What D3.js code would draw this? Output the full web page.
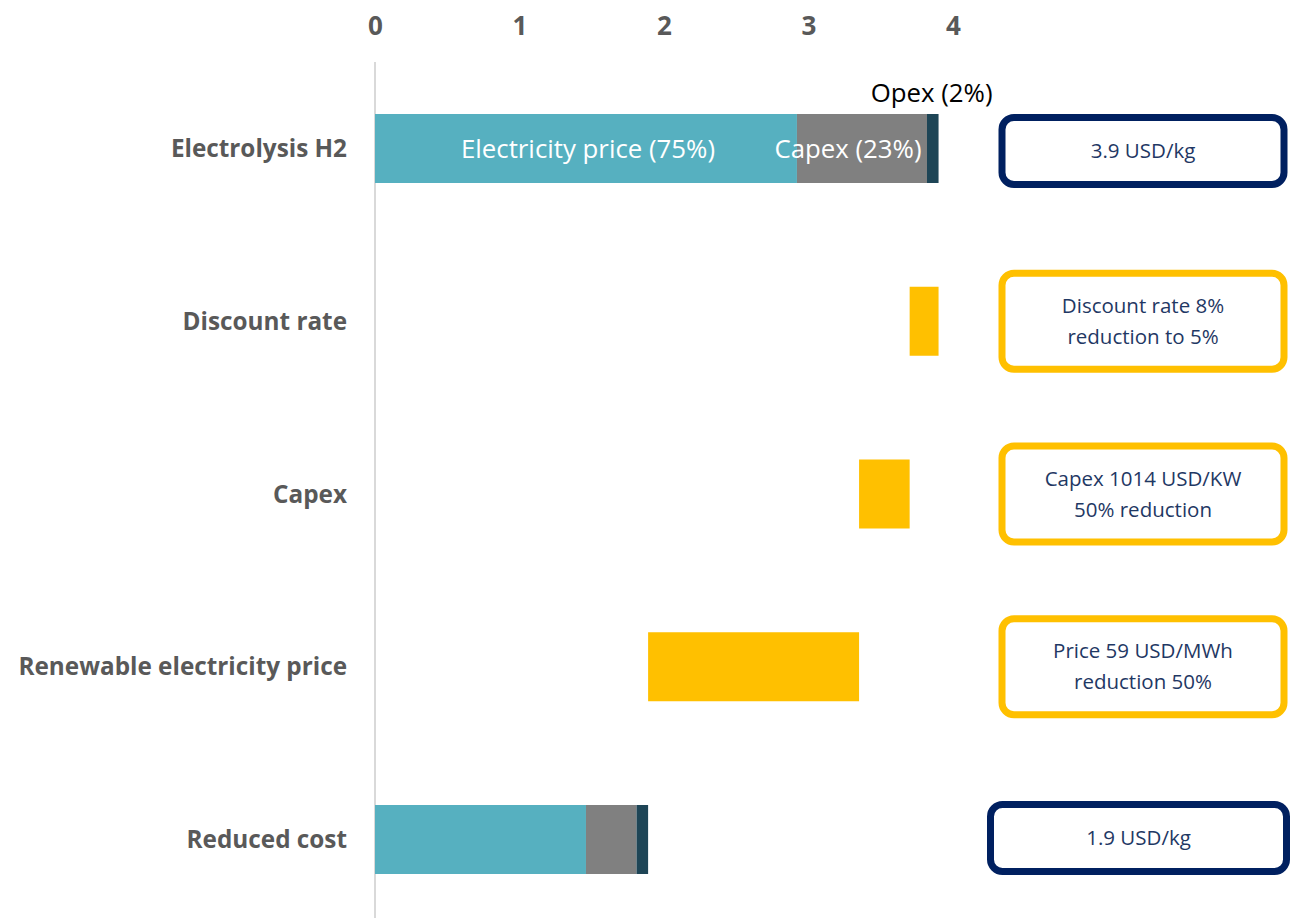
<!DOCTYPE html>
<html>
<head>
<meta charset="utf-8">
<script src="https://cdn.jsdelivr.net/npm/d3@7"></script>
<style>
  html, body { margin: 0; padding: 0; background: #ffffff; }
  svg { display: block; }
</style>
</head>
<body>
<svg id="chart" width="1302" height="918"></svg>
<script>
// Levelised cost of electrolytic hydrogen (USD/kg) and the levers that reduce it
const categories = ["Electrolysis H2", "Discount rate", "Capex", "Renewable electricity price", "Reduced cost"];

// Cost components of the two stacked totals (USD/kg); zero on the lever rows
const electricityCost = [2.92, 0, 0, 0, 1.46];
const capexCost       = [0.90, 0, 0, 0, 0.35];
const opexCost        = [0.08, 0, 0, 0, 0.08];

// Cost reduction delivered by each lever (USD/kg)
const reductions = [0, 0.20, 0.35, 1.46, 0];

const tickValues = [0, 1, 2, 3, 4];
const segmentLabels = ["Electricity price (75%)", "Capex (23%)", "Opex (2%)"];
const boxTexts = [
  ["3.9 USD/kg"],
  ["Discount rate 8%", "reduction to 5%"],
  ["Capex 1014 USD/KW", "50% reduction"],
  ["Price 59 USD/MWh", "reduction 50%"],
  ["1.9 USD/kg"]
];
const rowKinds = ["total", "lever", "lever", "lever", "total"];

const colors = {
  electricity: "#56B0C0",
  capex: "#808080",
  opex: "#1E4556",
  lever: "#FFC000",
  totalBox: "#002060",
  boxText: "#1F3864",
  label: "#595959",
  axis: "#D9D9D9"
};

const svg = d3.select("#chart");
const font = "'Open Sans', Lato, sans-serif";

const x = d3.scaleLinear().domain([0, 4]).range([375, 953]);
const y = d3.scalePoint().domain(categories).range([148.5, 839.5]);
const barH = 69;

// vertical baseline at zero
svg.append("line")
  .attr("x1", x(0)).attr("x2", x(0))
  .attr("y1", 62).attr("y2", 918)
  .attr("stroke", colors.axis).attr("stroke-width", 2);

// value axis along the top
const axis = svg.append("g")
  .attr("transform", "translate(0,40)")
  .call(d3.axisTop(x).tickValues(tickValues).tickFormat(d3.format("d")).tickSize(0).tickPadding(0));
axis.select(".domain").remove();
axis.selectAll("text")
  .attr("font-family", font)
  .attr("font-weight", "bold")
  .attr("font-size", 26)
  .attr("fill", colors.label)
  .attr("dy", "-0.2em");

// category labels
svg.append("g").selectAll("text")
  .data(categories)
  .join("text")
  .attr("x", 347)
  .attr("y", d => y(d))
  .attr("dy", "0.35em")
  .attr("text-anchor", "end")
  .attr("font-family", font)
  .attr("font-weight", "bold")
  .attr("font-size", 24.3)
  .attr("fill", colors.label)
  .text(d => d);

// stacked totals
const stackRows = categories.map((c, i) => ({
  category: c,
  electricity: electricityCost[i],
  capex: capexCost[i],
  opex: opexCost[i]
})).filter((d, i) => rowKinds[i] === "total");

const stack = d3.stack().keys(["electricity", "capex", "opex"]);
const series = stack(stackRows);

svg.append("g").selectAll("g")
  .data(series)
  .join("g")
  .attr("fill", s => colors[s.key])
  .selectAll("rect")
  .data(s => s)
  .join("rect")
  .attr("x", d => x(d[0]))
  .attr("width", d => x(d[1]) - x(d[0]))
  .attr("y", d => y(d.data.category) - barH / 2)
  .attr("height", barH);

// floating lever bars: each one starts where the previous total ended
const startTotal = electricityCost[0] + capexCost[0] + opexCost[0];
let running = startTotal;
const leverBars = [];
categories.forEach((c, i) => {
  if (rowKinds[i] === "lever") {
    leverBars.push({ category: c, from: running - reductions[i], to: running });
    running -= reductions[i];
  }
});

svg.append("g").selectAll("rect")
  .data(leverBars)
  .join("rect")
  .attr("x", d => x(d.from))
  .attr("width", d => x(d.to) - x(d.from))
  .attr("y", d => y(d.category) - barH / 2)
  .attr("height", barH)
  .attr("fill", colors.lever);

// segment labels on the first bar
const first = categories[0];
const e0 = electricityCost[0], c0 = capexCost[0], o0 = opexCost[0];
const segFont = 25.8;
svg.append("text")
  .attr("x", x(e0 / 2) + 2)
  .attr("y", y(first))
  .attr("dy", "0.35em")
  .attr("text-anchor", "middle")
  .attr("font-family", font)
  .attr("font-size", segFont)
  .attr("fill", "#ffffff")
  .text(segmentLabels[0]);
svg.append("text")
  .attr("x", x(e0 + c0 / 2) - 14)
  .attr("y", y(first))
  .attr("dy", "0.35em")
  .attr("text-anchor", "middle")
  .attr("font-family", font)
  .attr("font-size", segFont)
  .attr("fill", "#ffffff")
  .text(segmentLabels[1]);
svg.append("text")
  .attr("x", x(e0 + c0 + o0) + 54)
  .attr("y", y(first) - 56)
  .attr("dy", "0.35em")
  .attr("text-anchor", "end")
  .attr("font-family", font)
  .attr("font-size", segFont)
  .attr("fill", "#000000")
  .text(segmentLabels[2]);

// annotation boxes on the right
const boxes = svg.append("g");
categories.forEach((c, i) => {
  const isTotal = rowKinds[i] === "total";
  const w = (i === 4) ? 296 : 282;
  const h = isTotal ? 67 : 96;
  const cx = (i === 4) ? 1138.5 : 1143;
  const cy = y(c) + (i === 0 ? 2.5 : (i === 4 ? -1.5 : 0));
  boxes.append("rect")
    .attr("x", cx - w / 2)
    .attr("y", cy - h / 2)
    .attr("width", w)
    .attr("height", h)
    .attr("rx", 12)
    .attr("fill", "#ffffff")
    .attr("stroke", isTotal ? colors.totalBox : colors.lever)
    .attr("stroke-width", 7);
  const lines = boxTexts[i];
  const lh = 31;
  boxes.append("text")
    .attr("text-anchor", "middle")
    .attr("font-family", font)
    .attr("font-size", 20.5)
    .attr("fill", colors.boxText)
    .selectAll("tspan")
    .data(lines)
    .join("tspan")
    .attr("x", cx)
    .attr("y", (d, k) => cy + (k - (lines.length - 1) / 2) * lh)
    .attr("dy", "0.35em")
    .text(d => d);
});
</script>
</body>
</html>
